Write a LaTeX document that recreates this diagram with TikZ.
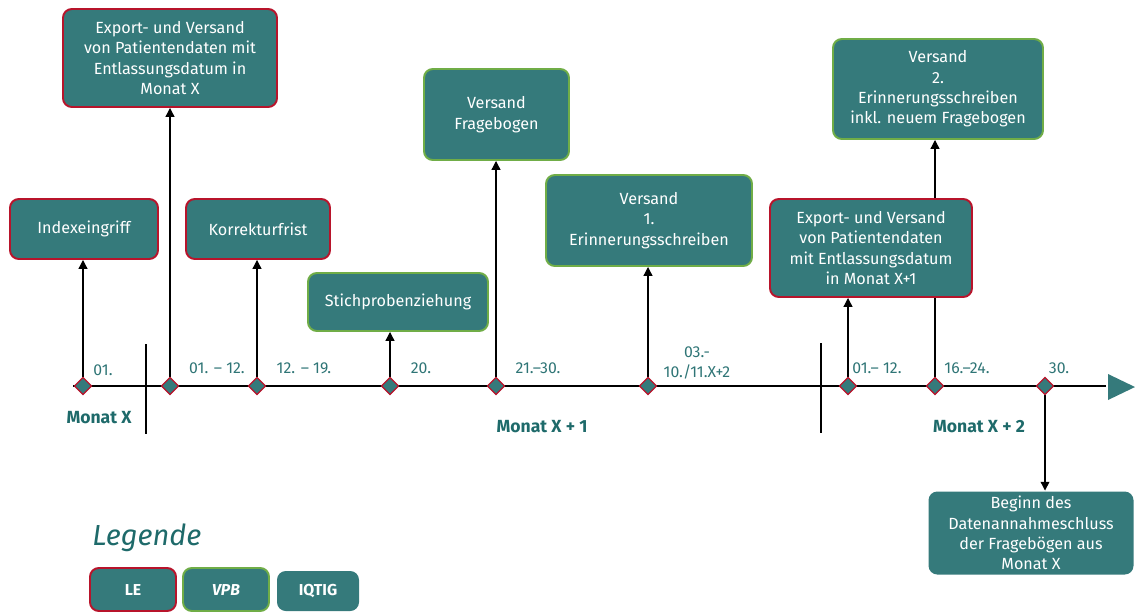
\documentclass[tikz,border=0pt]{standalone}
\usepackage{fontspec}
\setmainfont{Fira Sans}
\usetikzlibrary{positioning,shapes.geometric,arrows.meta,backgrounds}
\definecolor{boxteal}{HTML}{357A7B}
\definecolor{lered}{HTML}{B8142B}
\definecolor{vpbgreen}{HTML}{70AD47}
\definecolor{dateteal}{HTML}{2F7576}
\definecolor{monatteal}{HTML}{1E6A6A}

\begin{document}
\begin{tikzpicture}[x=0.2mm,y=-0.2mm]
\tikzset{box/.style={rounded corners=5pt,line width=1.1pt,fill=boxteal,text=white,align=center,
    font=\fontsize{9.2}{11.6}\selectfont,inner sep=1pt}}
\tikzset{le/.style={box,draw=lered}}
\tikzset{vpb/.style={box,draw=vpbgreen}}
\tikzset{iqtig/.style={box,draw=none}}
\tikzset{knoten/.style={diamond,draw=lered,fill=boxteal,line width=0.7pt,inner sep=0pt,minimum size=3.5mm}}
\tikzset{datum/.style={text=dateteal,align=center,font=\fontsize{9}{11}\selectfont}}
\tikzset{monat/.style={text=monatteal,font=\fontsize{10}{12}\selectfont\bfseries}}
\tikzset{pfeil/.style={draw=black,line width=0.7pt,-{Triangle[width=5pt,length=5pt]}}}
\useasboundingbox (0,0) rectangle (1135,612);

% Zeitstrahl
\coordinate (start) at (73,386);
\coordinate (ende) at (1106,386);
\fill[boxteal] (1108,374) -- (1135,387) -- (1108,400) -- cycle;
\coordinate (trennAo) at (146,344);
\coordinate (trennAu) at (146,434);
\coordinate (trennBo) at (821,343);
\coordinate (trennBu) at (821,433);

\node[knoten] (d1) at (83,386) {};
\node[knoten] (d2) at (170,386) {};
\node[knoten] (d3) at (257,386) {};
\node[knoten] (d4) at (390,386) {};
\node[knoten] (d5) at (496,386) {};
\node[knoten] (d6) at (648,386) {};
\node[knoten] (d7) at (848,386) {};
\node[knoten] (d8) at (935,386) {};
\node[knoten] (d9) at (1045,386) {};

\node[datum] at (103,370) {01.};
\node[datum] at (217,368) {01. – 12.};
\node[datum] at (304,368) {12. – 19.};
\node[datum] at (421,368) {20.};
\node[datum] at (538,368) {21.–30.};
\node[datum] at (697,363) {03.-\\10./11.X+2};
\node[datum] at (877,368) {01.– 12.};
\node[datum] at (967,368) {16.–24.};
\node[datum] at (1059,368) {30.};

\node[monat] at (99,418) {Monat X};
\node[monat] at (542,427) {Monat X + 1};
\node[monat] at (979,427) {Monat X + 2};

% Ereignisse
\node[le,minimum width=29.6mm,minimum height=12mm] (index) at (84,229) {Indexeingriff};
\node[le,minimum width=42.8mm,minimum height=19.6mm] (exportX) at (170,58)
    {Export- und Versand\\von Patientendaten mit\\Entlassungsdatum in\\Monat X};
\node[le,minimum width=28.8mm,minimum height=12mm] (korrektur) at (258,229) {Korrekturfrist};
\node[vpb,minimum width=36mm,minimum height=11.6mm] (stichprobe) at (398,302) {Stichprobenziehung};
\node[vpb,minimum width=29mm,minimum height=18.2mm] (versand) at (496.5,114.5) {Versand\\Fragebogen};
\node[vpb,minimum width=41.2mm,minimum height=18.2mm] (erinnerung1) at (649,220.5)
    {Versand\\1.\\Erinnerungsschreiben};
\node[le,minimum width=40.4mm,minimum height=19.6mm] (exportX1) at (871,248)
    {Export- und Versand\\von Patientendaten\\mit Entlassungsdatum\\in Monat X+1};
\node[vpb,minimum width=42mm,minimum height=20mm] (erinnerung2) at (938,89)
    {Versand\\2.\\Erinnerungsschreiben\\inkl. neuem Fragebogen};
\node[iqtig,minimum width=41mm,minimum height=16.6mm] (annahme) at (1031,533)
    {Beginn des\\Datenannahmeschluss\\der Fragebögen aus\\Monat X};

% Legende
\node[text=monatteal,font=\fontsize{16.5}{19}\selectfont\itshape,anchor=west,inner sep=0pt] (legende) at (92,538) {Legende};
\node[le,font=\fontsize{9}{11}\selectfont\bfseries,minimum width=17.2mm,minimum height=8.6mm] (legLE) at (133,589.5) {LE};
\node[vpb,font=\fontsize{9}{11}\selectfont\bfseries\itshape,minimum width=17.2mm,minimum height=8.6mm] (legVPB) at (226,589.5) {VPB};
\node[iqtig,font=\fontsize{9}{11}\selectfont\bfseries,minimum width=16.4mm,minimum height=8mm] (legIQTIG) at (318,591) {IQTIG};

\begin{scope}[on background layer]
\draw[line width=0.7pt] (start) -- (ende);
\draw[line width=0.7pt] (trennAo) -- (trennAu);
\draw[line width=0.7pt] (trennBo) -- (trennBu);
\draw[pfeil] (d1) -- (d1 |- index.south);
\draw[pfeil] (d2) -- (d2 |- exportX.south);
\draw[pfeil] (d3) -- (d3 |- korrektur.south);
\draw[pfeil] (d4) -- (d4 |- stichprobe.south);
\draw[pfeil] (d5) -- (d5 |- versand.south);
\draw[pfeil] (d6) -- (d6 |- erinnerung1.south);
\draw[pfeil] (d7) -- (d7 |- exportX1.south);
\draw[pfeil] (d8) -- (d8 |- erinnerung2.south);
\draw[pfeil] (d9) -- (d9 |- annahme.north);
\end{scope}
\end{tikzpicture}
\end{document}
